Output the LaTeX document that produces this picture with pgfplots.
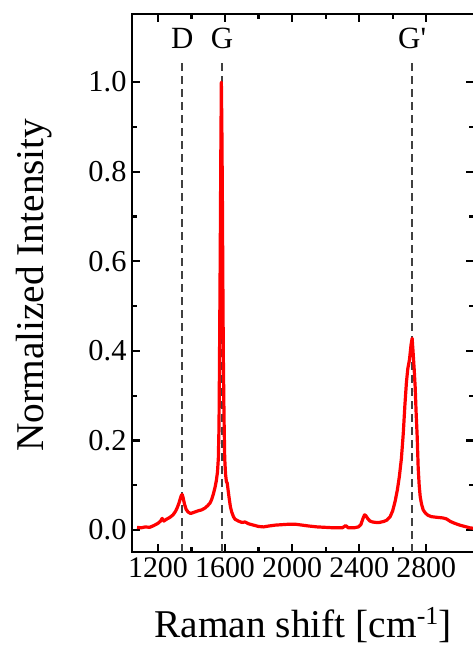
\documentclass[border=0pt]{standalone}
\usepackage{fontspec}
\setmainfont{Liberation Serif}
\usepackage{pgfplots}
\pgfplotsset{compat=1.18}
\begin{document}
\begin{tikzpicture}
\begin{axis}[
  scale only axis,
  width=342bp, height=538bp,
  xmin=1045, xmax=3085,
  ymin=-0.049, ymax=1.152,
  xtick={1200,1600,2000,2400,2800},
  ytick={0,0.2,0.4,0.6,0.8,1.0},
  minor x tick num=1,
  minor y tick num=1,
  tick align=inside,
  xtick pos=both, ytick pos=both,
  xticklabel pos=bottom, yticklabel pos=left,
  major tick length=8bp, minor tick length=5bp,
  every tick/.style={black, line width=2.2bp},
  axis line style={line width=2.6bp},
  /pgf/number format/assume math mode=true,
  x tick label style={font=\fontsize{30}{30}\selectfont, yshift=-2bp, /pgf/number format/.cd, set thousands separator={}},
  y tick label style={font=\fontsize{30.5}{30.5}\selectfont, xshift=-2bp, /pgf/number format/.cd, fixed, fixed zerofill, precision=1},
  xlabel={Raman shift [cm\raisebox{13bp}{\fontsize{26}{26}\selectfont -1}]},
  ylabel={Normalized Intensity},
  label style={font=\fontsize{39.5}{39.5}\selectfont},
  xlabel style={at={(axis description cs:0.5,-0.136)}, anchor=center},
  ylabel style={at={(axis description cs:-0.287,0.496)}, anchor=center, rotate=0},
  clip=false,
]
\addplot[dash pattern=on 8bp off 5bp, color=black!75, line width=2bp] coordinates {(1345,-0.049) (1345,1.05)};
\addplot[dash pattern=on 8bp off 5bp, color=black!75, line width=2bp] coordinates {(1582,-0.049) (1582,1.05)};
\addplot[dash pattern=on 8bp off 5bp, color=black!75, line width=2bp] coordinates {(2716,-0.049) (2716,1.05)};
\addplot[red, line width=3.2bp, line join=round] coordinates {
(1075,0.006) (1100,0.005) (1125,0.007) (1150,0.006) (1175,0.010) (1200,0.015)
(1215,0.020) (1225,0.026) (1235,0.020) (1250,0.024) (1270,0.028) (1290,0.034)
(1305,0.042) (1315,0.050) (1325,0.060) (1333,0.070) (1340,0.078) (1345,0.079)
(1350,0.072) (1358,0.058) (1368,0.046) (1380,0.040) (1395,0.037) (1410,0.039)
(1425,0.041) (1440,0.043) (1460,0.045) (1480,0.049) (1495,0.054) (1510,0.060)
(1520,0.068) (1530,0.080) (1540,0.095) (1548,0.110) (1555,0.130) (1560,0.160)
(1564,0.230) (1567,0.380) (1571,0.600) (1575,0.850) (1578,1.000) (1581,0.900)
(1584,0.750) (1587,0.550) (1590,0.380) (1594,0.250) (1598,0.160) (1603,0.125)
(1608,0.108) (1613,0.105) (1618,0.090) (1625,0.070) (1632,0.052) (1640,0.040)
(1650,0.030) (1660,0.024) (1680,0.020) (1700,0.017) (1720,0.018) (1740,0.014)
(1760,0.012) (1780,0.010) (1800,0.008) (1830,0.007) (1860,0.009) (1900,0.011)
(1940,0.012) (1980,0.013) (2020,0.013) (2060,0.011) (2100,0.009) (2150,0.007)
(2200,0.006) (2250,0.005) (2300,0.005) (2320,0.010) (2335,0.005) (2370,0.005)
(2395,0.007) (2410,0.012) (2422,0.025) (2432,0.034) (2440,0.032) (2452,0.025)
(2465,0.020) (2480,0.018) (2500,0.017) (2520,0.017) (2545,0.019) (2565,0.022)
(2585,0.030) (2600,0.043) (2615,0.065) (2628,0.090) (2640,0.120) (2652,0.160)
(2663,0.215) (2673,0.280) (2682,0.330) (2690,0.360) (2700,0.380) (2710,0.415)
(2716,0.428) (2722,0.395) (2728,0.360) (2734,0.320) (2740,0.260) (2746,0.210)
(2752,0.140) (2758,0.100) (2764,0.075) (2772,0.058) (2782,0.045) (2795,0.038)
(2810,0.033) (2830,0.030) (2850,0.029) (2875,0.028) (2900,0.027) (2920,0.025)
(2945,0.019) (2970,0.015) (3000,0.011) (3030,0.008) (3060,0.005) (3080,0.004)
};
\node[font=\fontsize{31}{31}\selectfont] at (axis cs:1345,1.098) {D};
\node[font=\fontsize{31}{31}\selectfont] at (axis cs:1582,1.098) {G};
\node[font=\fontsize{31}{31}\selectfont] at (axis cs:2716,1.098) {G\textquotesingle};
\end{axis}
\pgfresetboundingbox
\path[use as bounding box] (-132bp,-99bp) rectangle (341bp,552bp);
\end{tikzpicture}
\end{document}
